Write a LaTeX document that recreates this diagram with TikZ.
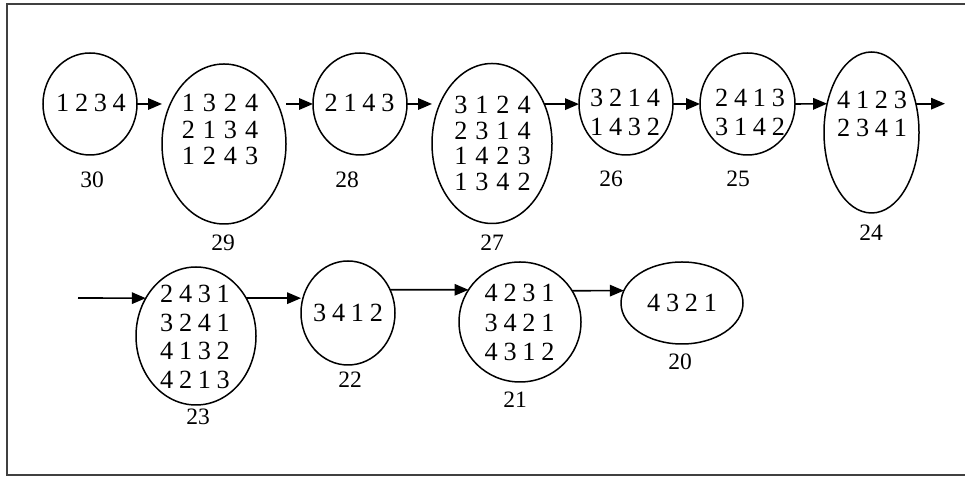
\documentclass[tikz,border=0pt]{standalone}
\usepackage{fontspec}
\setmainfont{Liberation Serif}
\usetikzlibrary{shapes.geometric,arrows.meta}

\newcommand{\wsp}{\hspace{3.2pt}}

\begin{document}
\begin{tikzpicture}[x=0.4pt,y=-0.4pt,
        state/.style 2 args={draw,ellipse,line width=0.6pt,inner sep=0pt,outer sep=0pt,minimum width=#1*0.8pt,minimum height=#2*0.8pt},
        perm/.style={align=center,inner sep=0pt,font={\fontsize{10.5}{#1}\selectfont\spaceskip=2.3pt\relax}},
        lab/.style={inner sep=0pt,font=\fontsize{9.4}{10}\selectfont},
        arr/.style={line width=0.65pt,-{Triangle[length=5.6pt,width=4.6pt]}}]
        \useasboundingbox (0,0) rectangle (965,477);
        %% Frame
        \draw[line width=0.8pt,black!75] (965,4) -- (7,4) -- (7,475) -- (965,475);
        %% Ellipses
        \node[state={47}{51}] (S30) at (90,104) {};
        \node[state={62}{80}] (S29) at (224,144) {};
        \node[state={47}{51}] (S28) at (360,104) {};
        \node[state={60}{80}] (S27) at (492,143.5) {};
        \node[state={47}{51}] (S26) at (626,104) {};
        \node[state={47.5}{51}] (S25) at (747.5,104) {};
        \node[state={47.5}{80.5}] (S24) at (871.5,132.5) {};
        \node[state={60}{69}] (S23) at (196,336) {};
        \node[state={47}{52}] (S22) at (348,313) {};
        \node[state={61}{60}] (S21) at (520,322) {};
        \node[state={61}{41}] (S20) at (682,303) {};
        %% Permutations
        \node[perm=10pt] (T30) at (91,103) {1 2 3 4};
        \node[perm=10.6pt] (T29) at (220,129.5) {1\wsp 3\wsp 2\wsp 4\\2\wsp 1\wsp 3\wsp 4\\1\wsp 2\wsp 4\wsp 3};
        \node[perm=10pt] (T28) at (359.5,103) {2 1 4 3};
        \node[perm=10.3pt] (T27) at (492.5,143.5) {3\wsp 1\wsp 2\wsp 4\\2\wsp 3\wsp 1\wsp 4\\1\wsp 4\wsp 2\wsp 3\\1\wsp 3\wsp 4\wsp 2};
        \node[perm=11.6pt] (T26) at (625,112.5) {3 2 1 4\\1 4 3 2};
        \node[perm=11.6pt] (T25) at (750,112.5) {2 4 1 3\\3 1 4 2};
        \node[perm=11.2pt] (T24) at (872,114) {4 1 2 3\\2 3 4 1};
        \node[perm=11.5pt] (T23) at (195,337) {2 4 3 1\\3 2 4 1\\4 1 3 2\\4 2 1 3};
        \node[perm=10pt] (T22) at (348,313) {3 4 1 2};
        \node[perm=11.8pt] (T21) at (519.5,322.5) {4 2 3 1\\3 4 2 1\\4 3 1 2};
        \node[perm=10pt] (T20) at (682,303) {4 3 2 1};
        %% Labels
        \node[lab] (L30) at (92,180) {30};
        \node[lab] (L29) at (223,243) {29};
        \node[lab] (L28) at (347,180) {28};
        \node[lab] (L27) at (492,243) {27};
        \node[lab] (L26) at (611,179) {26};
        \node[lab] (L25) at (738,179) {25};
        \node[lab] (L24) at (871,233) {24};
        \node[lab] (L23) at (198,417) {23};
        \node[lab] (L22) at (350,380) {22};
        \node[lab] (L21) at (515,400) {21};
        \node[lab] (L20) at (680,362) {20};
        %% Arrows
        \coordinate (in) at (78,298);
        \coordinate (out) at (945,104);
        \draw[arr] (S30.east) -- (S30.east -| S29.west);
        \draw[arr] (S29.east |- S28.west) -- (S28.west);
        \draw[arr] (S28.east) -- (S28.east -| S27.west);
        \draw[arr] (S27.37) -- (S27.37 -| S26.west);
        \draw[arr] (S26.east) -- (S25.west);
        \draw[arr] (S25.east) -- (S24.147);
        \draw[arr] (S24.33) -- (S24.33 -| out);
        \draw[arr] (in) -- (S23.143);
        \draw[arr] (S23.37) -- (S23.37 -| S22.west);
        \draw[arr] (S22.29) -- (S21.148);
        \draw[arr] (S21.31) -- (S20.168);
\end{tikzpicture}
\end{document}
